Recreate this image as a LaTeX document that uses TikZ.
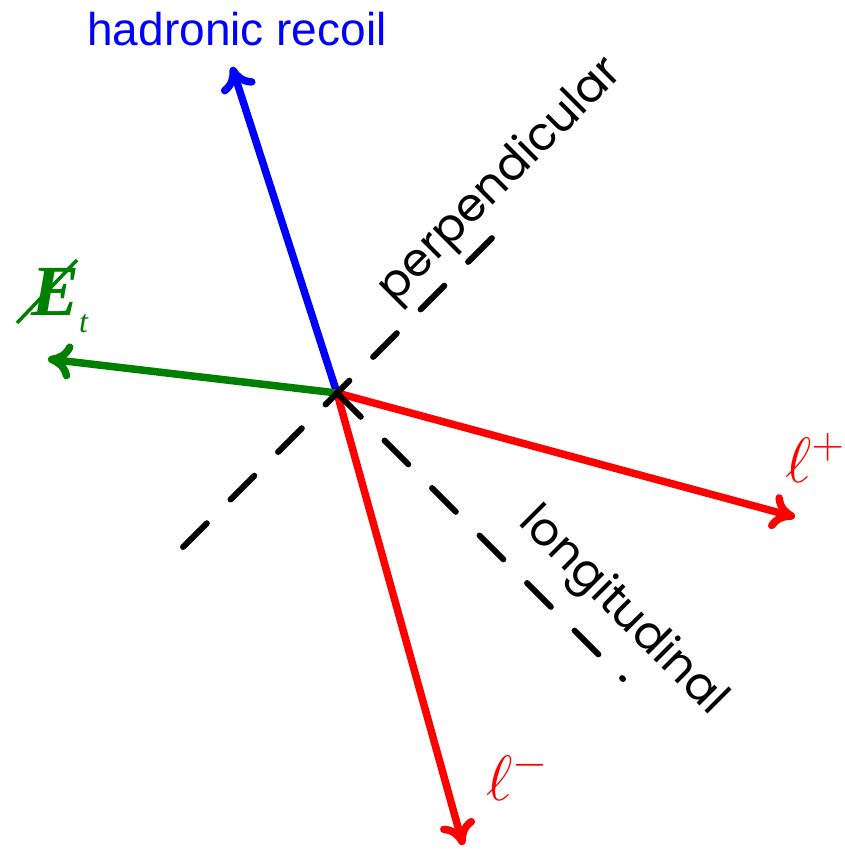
\RequirePackage{fix-cm}
\documentclass[tikz,border=0pt]{standalone}
\usepackage{fontspec}
\setmainfont{Liberation Sans}
\newfontfamily\axisfont{Poppins}
\newfontfamily\metfont{Liberation Serif}
\usetikzlibrary{arrows.meta}
\definecolor{RecoilBlue}{RGB}{0,0,255}
\definecolor{LeptonRed}{RGB}{255,0,0}
\definecolor{MetGreen}{RGB}{0,128,0}

\tikzset{
  vec/.style={line width=7.5pt, line cap=round, -{To[length=24pt,width=36pt,round]}},
  frameaxis/.style={line width=6pt, line cap=round, dash pattern=on 33.6pt off 33.6pt},
  axislabel/.style={font=\axisfont\fontsize{46}{50}\selectfont, inner sep=0pt},
  mathlabel/.style={font=\fontsize{64}{70}\selectfont, inner sep=0pt},
}

\begin{document}
\begin{tikzpicture}[x=1pt,y=-1pt]
    \useasboundingbox (0,0) rectangle (845,849);
    \coordinate (O) at (337,393);

    % Hadronic recoil
    \coordinate (recoil) at (232,67);
    \draw[vec, RecoilBlue] (O) -- (recoil);
    \node[RecoilBlue, anchor=base, font=\fontsize{46}{50}\selectfont] (recoiltxt) at (237,45) {hadronic recoil};

    % Missing transverse energy
    \coordinate (met) at (48,359);
    \draw[vec, MetGreen] (O) -- (met);
    \node[MetGreen, inner sep=0pt, anchor=base west, font=\metfont\fontsize{72}{76}\selectfont] (mettxt) at (31,315)
      {{\bfseries\itshape E}\raisebox{-17pt}{\fontsize{32}{32}\selectfont\itshape t}};
    \draw[MetGreen, line width=3.5pt] ([shift={(-14,8)}]mettxt.base west) -- ([shift={(46,-55)}]mettxt.base west);

    % Leptons
    \coordinate (lplus) at (795,517);
    \coordinate (lminus) at (463,845);
    \draw[vec, LeptonRed] (O) -- (lplus);
    \draw[vec, LeptonRed] (O) -- (lminus);
    \node[LeptonRed, mathlabel, anchor=base west] (lplustxt) at (785,482) {$\ell^+$};
    \node[LeptonRed, mathlabel, anchor=base west] (lminustxt) at (486,800) {$\ell^-$};

    % Frame axes
    \coordinate (perpA) at (183,547);
    \coordinate (perpB) at (495,235);
    \coordinate (longB) at (623,679);
    \draw[frameaxis] (perpA) -- (perpB);
    \draw[frameaxis] (O) -- (longB);
    \node[axislabel, rotate=45] (perptxt) at (501,181) {perpendicular};
    \node[axislabel, rotate=-45] (longtxt) at (622,612) {longitudinal};
\end{tikzpicture}
\end{document}
